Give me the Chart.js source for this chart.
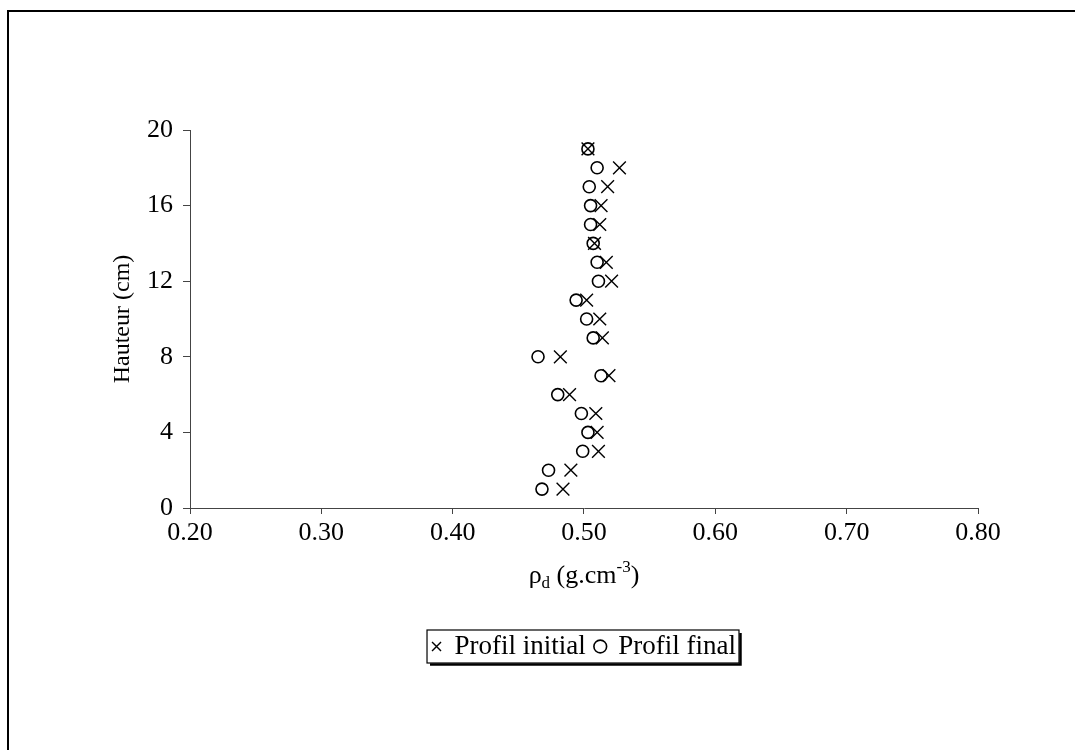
<!DOCTYPE html>
<html><head><meta charset="utf-8">
<script src="https://cdn.jsdelivr.net/npm/chart.js@4.4.0/dist/chart.umd.min.js"></script>
<style>html,body{margin:0;padding:0;background:#fff}#wrap{width:1075px;height:750px;position:relative}</style>
</head><body><div id="wrap"><canvas id="c" width="1075" height="750"></canvas></div>
<script>
// Heights (cm)
const heights = [19,18,17,16,15,14,13,12,11,10,9,8,7,6,5,4,3,2,1];
// Dry density, initial profile (g.cm-3)
const initialDensity = [0.503,0.527,0.518,0.513,0.512,0.508,0.517,0.521,0.502,0.512,0.514,0.482,0.519,0.489,0.509,0.510,0.511,0.490,0.484];
// Dry density, final profile (g.cm-3)
const finalDensity = [0.503,0.510,0.504,0.505,0.505,0.507,0.510,0.511,0.494,0.502,0.507,0.465,0.513,0.480,0.498,0.503,0.499,0.473,0.468];
const xTickValues = [0.20,0.30,0.40,0.50,0.60,0.70,0.80];
const yTickValues = [0,4,8,12,16,20];
const seriesLabels = ['Profil initial','Profil final'];
const yTitle = 'Hauteur (cm)';

const FONT = "'Liberation Serif','Times New Roman',serif";

const framePlugin = {
  id: 'frame',
  afterLayout(chart) {
    // centre the legend under the plot area
    const lg = chart.legend;
    if (lg) {
      const ca = chart.chartArea;
      const shift = (ca.left + ca.right) / 2 - (lg.left + lg.right) / 2;
      lg.left += shift;
      lg.right += shift;
    }
  },
  beforeDraw(chart) {
    const ctx = chart.ctx;
    ctx.save();
    ctx.fillStyle = '#fff';
    ctx.fillRect(0, 0, chart.width, chart.height);
    ctx.strokeStyle = '#000';
    ctx.lineWidth = 2;
    ctx.beginPath();
    ctx.moveTo(8, chart.height);
    ctx.lineTo(8, 11);
    ctx.lineTo(chart.width, 11);
    ctx.stroke();
    ctx.restore();
  },
  afterDraw(chart) {
    const ctx = chart.ctx;
    // x axis title with subscript / superscript
    const xs = chart.scales.x;
    const cx = (xs.left + xs.right) / 2;
    const base = chart.chartArea.bottom + 75;
    const big = '26px ' + FONT, small = '17px ' + FONT;
    const parts = [
      {t: '\u03C1', f: big, dy: 0},
      {t: 'd', f: small, dy: 5},
      {t: ' (g.cm', f: big, dy: 0},
      {t: '-3', f: small, dy: -11},
      {t: ')', f: big, dy: 0}
    ];
    ctx.save();
    ctx.fillStyle = '#000';
    ctx.textBaseline = 'alphabetic';
    let w = 0;
    parts.forEach(p => { ctx.font = p.f; p.w = ctx.measureText(p.t).width; w += p.w; });
    let x = cx - w / 2;
    parts.forEach(p => { ctx.font = p.f; ctx.fillText(p.t, x, base + p.dy); x += p.w; });
    // legend frame with shadow
    const lg = chart.legend;
    if (lg && lg.legendHitBoxes && lg.legendHitBoxes.length) {
      const hb = lg.legendHitBoxes;
      const l = hb[0].left - 5;
      const r = hb[hb.length - 1].left + hb[hb.length - 1].width + 3;
      const t = hb[0].top - 3;
      const b = hb[0].top + hb[0].height + 3;
      ctx.strokeStyle = '#000';
      ctx.lineWidth = 1.2;
      ctx.strokeRect(l, t, r - l, b - t);
      ctx.lineWidth = 2.5;
      ctx.beginPath();
      ctx.moveTo(l + 3, b + 1.5);
      ctx.lineTo(r + 1.5, b + 1.5);
      ctx.lineTo(r + 1.5, t + 3);
      ctx.stroke();
    }
    ctx.restore();
  }
};

new Chart(document.getElementById('c'), {
  type: 'scatter',
  data: {
    datasets: [
      {
        label: seriesLabels[0],
        data: heights.map((h, i) => ({x: initialDensity[i], y: h})),
        pointStyle: 'crossRot',
        pointRadius: 9,
        pointHoverRadius: 9,
        borderColor: '#000',
        backgroundColor: 'transparent',
        borderWidth: 1.4,
        pointBorderWidth: 1.4
      },
      {
        label: seriesLabels[1],
        data: heights.map((h, i) => ({x: finalDensity[i], y: h})),
        pointStyle: 'circle',
        pointRadius: 6,
        pointHoverRadius: 6,
        borderColor: '#000',
        backgroundColor: 'transparent',
        borderWidth: 1.6,
        pointBorderWidth: 1.6
      }
    ]
  },
  options: {
    responsive: false,
    animation: false,
    devicePixelRatio: 1,
    layout: {padding: {left: 108, right: 97, top: 130, bottom: 80}},
    plugins: {
      tooltip: {enabled: false},
      legend: {
        position: 'bottom',
        labels: {
          usePointStyle: true,
          boxWidth: 9,
          boxHeight: 9,
          padding: 10,
          color: '#000',
          font: {family: FONT, size: 27}
        }
      }
    },
    scales: {
      x: {
        type: 'linear',
        min: 0.2,
        max: 0.8,
        afterBuildTicks: s => { s.ticks = xTickValues.map(v => ({value: v})); },
        afterFit: s => { s.height = 115; },
        ticks: {
          callback: v => Number(v).toFixed(2),
          color: '#000',
          font: {family: FONT, size: 26},
          padding: 4,
          maxRotation: 0
        },
        grid: {drawOnChartArea: false, tickLength: 6, color: '#444', lineWidth: 1},
        border: {color: '#444', width: 1}
      },
      y: {
        type: 'linear',
        min: 0,
        max: 20,
        afterBuildTicks: s => { s.ticks = yTickValues.map(v => ({value: v})); },
        afterFit: s => { s.width = 82; },
        ticks: {
          color: '#000',
          font: {family: FONT, size: 26},
          padding: 10
        },
        title: {
          display: true,
          text: yTitle,
          color: '#000',
          font: {family: FONT, size: 24},
          padding: {top: 0, bottom: 0}
        },
        grid: {drawOnChartArea: false, tickLength: 7, color: '#444', lineWidth: 1},
        border: {color: '#444', width: 1}
      }
    }
  },
  plugins: [framePlugin]
});
</script>
</body></html>
